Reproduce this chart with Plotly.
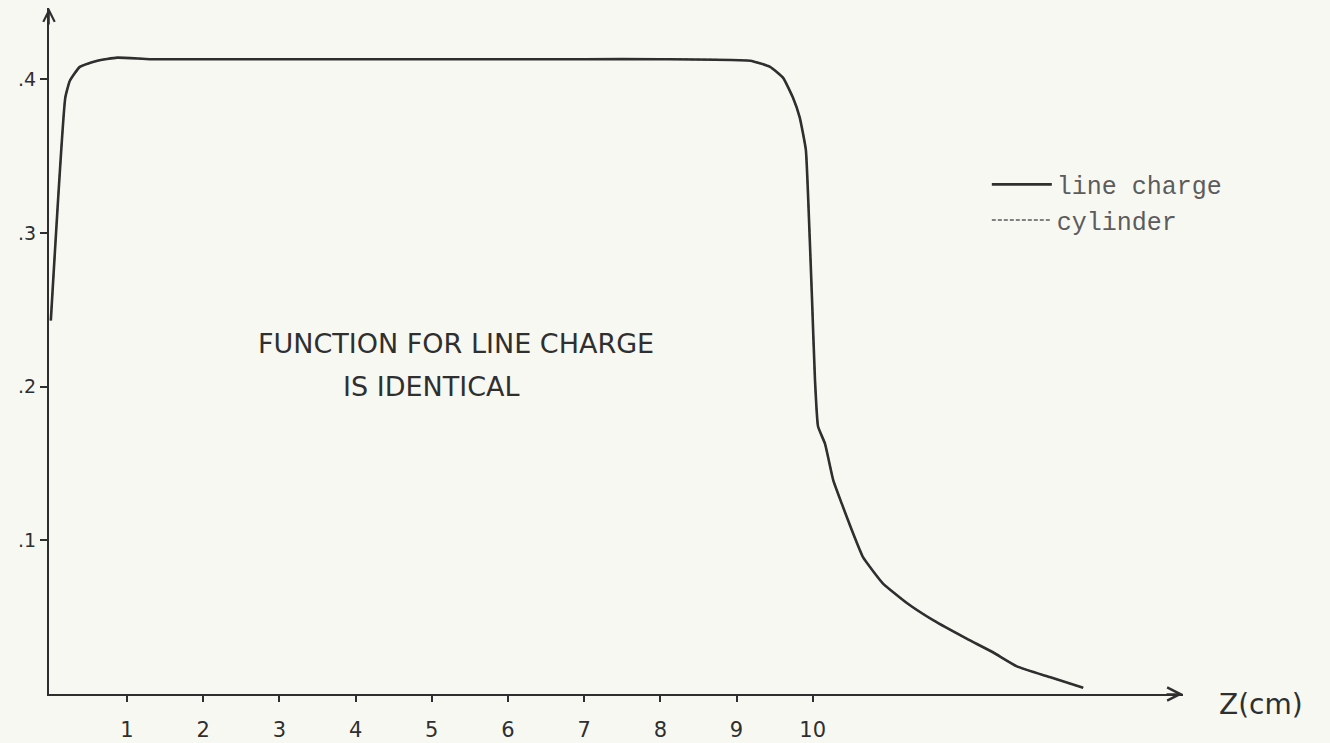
import plotly.graph_objects as go

# Potential along the axis.
# The note on the sheet says the line charge and cylinder curves are identical.
z_cm = [0.0, 0.19, 0.25, 0.38, 0.61, 0.87, 1.3, 2.0, 3.0, 4.0, 5.0, 6.0, 7.0, 8.0, 9.18,
        9.44, 9.61, 9.74, 9.83, 9.91, 9.94, 9.99, 10.03, 10.07, 10.16, 10.27, 10.38,
        10.51, 10.66, 10.92, 11.24, 11.58, 12.02, 12.37, 12.68, 13.11, 13.55]
potential = [0.243, 0.388, 0.399, 0.408, 0.412, 0.414, 0.413, 0.413, 0.413, 0.413, 0.413,
             0.413, 0.413, 0.413, 0.412,
             0.408, 0.401, 0.388, 0.375, 0.354, 0.323, 0.258, 0.204, 0.174, 0.163, 0.139,
             0.124, 0.107, 0.089, 0.072, 0.059, 0.048, 0.036, 0.027, 0.018, 0.011, 0.004]

x_ticks = [1, 2, 3, 4, 5, 6, 7, 8, 9, 10]
x_tick_text = ["1", "2", "3", "4", "5", "6", "7", "8", "9", "10"]
y_ticks = [0.1, 0.2, 0.3, 0.4]
y_tick_text = [".1", ".2", ".3", ".4"]

INK = "#2f2f2f"
PAPER = "#f8f8f3"
HAND = "DejaVu Sans, sans-serif"
TYPE = "Liberation Mono, Courier New, monospace"

fig = go.Figure()
fig.add_trace(go.Scatter(
    x=z_cm, y=potential, mode="lines", name="cylinder",
    line=dict(color="#5a5a5a", width=1.5, dash="4px,2px", shape="spline", smoothing=0.4),
))
fig.add_trace(go.Scatter(
    x=z_cm, y=potential, mode="lines", name="line charge",
    line=dict(color=INK, width=2.6, shape="spline", smoothing=0.4),
))

# hand-written note
fig.add_annotation(x=5.32, y=0.228, text="FUNCTION FOR LINE CHARGE",
                   showarrow=False, font=dict(family=HAND, size=27, color=INK))
fig.add_annotation(x=5.0, y=0.2, text="IS IDENTICAL",
                   showarrow=False, font=dict(family=HAND, size=27, color=INK))

fig.update_layout(
    width=1330, height=743,
    margin=dict(l=49, r=147, t=8, b=49, autoexpand=False),
    paper_bgcolor=PAPER,
    plot_bgcolor=PAPER,
    showlegend=True,
    legend=dict(
        x=0.827, y=0.776, xanchor="left", yanchor="top",
        bgcolor="rgba(0,0,0,0)", borderwidth=0,
        font=dict(family=TYPE, size=25, color="#5c5c5c"),
        traceorder="reversed", itemwidth=60, tracegroupgap=0,
    ),
)
fig.update_xaxes(
    range=[-0.024, 14.86], showgrid=False, zeroline=False, automargin=False,
    showline=True, linecolor=INK, linewidth=2,
    tickvals=x_ticks, ticktext=x_tick_text, ticks="outside", ticklen=6,
    tickcolor=INK, tickwidth=1.5, ticklabelstandoff=10,
    tickfont=dict(family=HAND, size=21, color=INK),
)
fig.update_yaxes(
    range=[0, 0.4463], showgrid=False, zeroline=False, automargin=False,
    showline=True, linecolor=INK, linewidth=2,
    tickvals=y_ticks, ticktext=y_tick_text, ticks="outside", ticklen=7,
    tickcolor=INK, tickwidth=1.5,
    tickfont=dict(family=HAND, size=19, color=INK),
)

# axis arrows and the z label
fig.add_annotation(x=14.86, y=0, ax=-18, ay=0, text="", showarrow=True,
                   arrowhead=5, arrowsize=1.6, arrowwidth=1.6, arrowcolor=INK)
fig.add_annotation(x=-0.024, y=0.4463, ax=0, ay=18, text="", showarrow=True,
                   arrowhead=5, arrowsize=1.4, arrowwidth=1.6, arrowcolor=INK)
fig.add_annotation(x=1.03, y=0.0, xref="paper", yref="y", xanchor="left", yshift=-10,
                   text="Z(cm)", showarrow=False, font=dict(family=HAND, size=28, color=INK))

# drop the default page margin so the figure sits at the window's corner
fig.write_html("out.html", config={"displayModeBar": False}, post_script=(
    "document.body.style.margin='0';"
    f"document.body.style.background='{PAPER}';"
))
